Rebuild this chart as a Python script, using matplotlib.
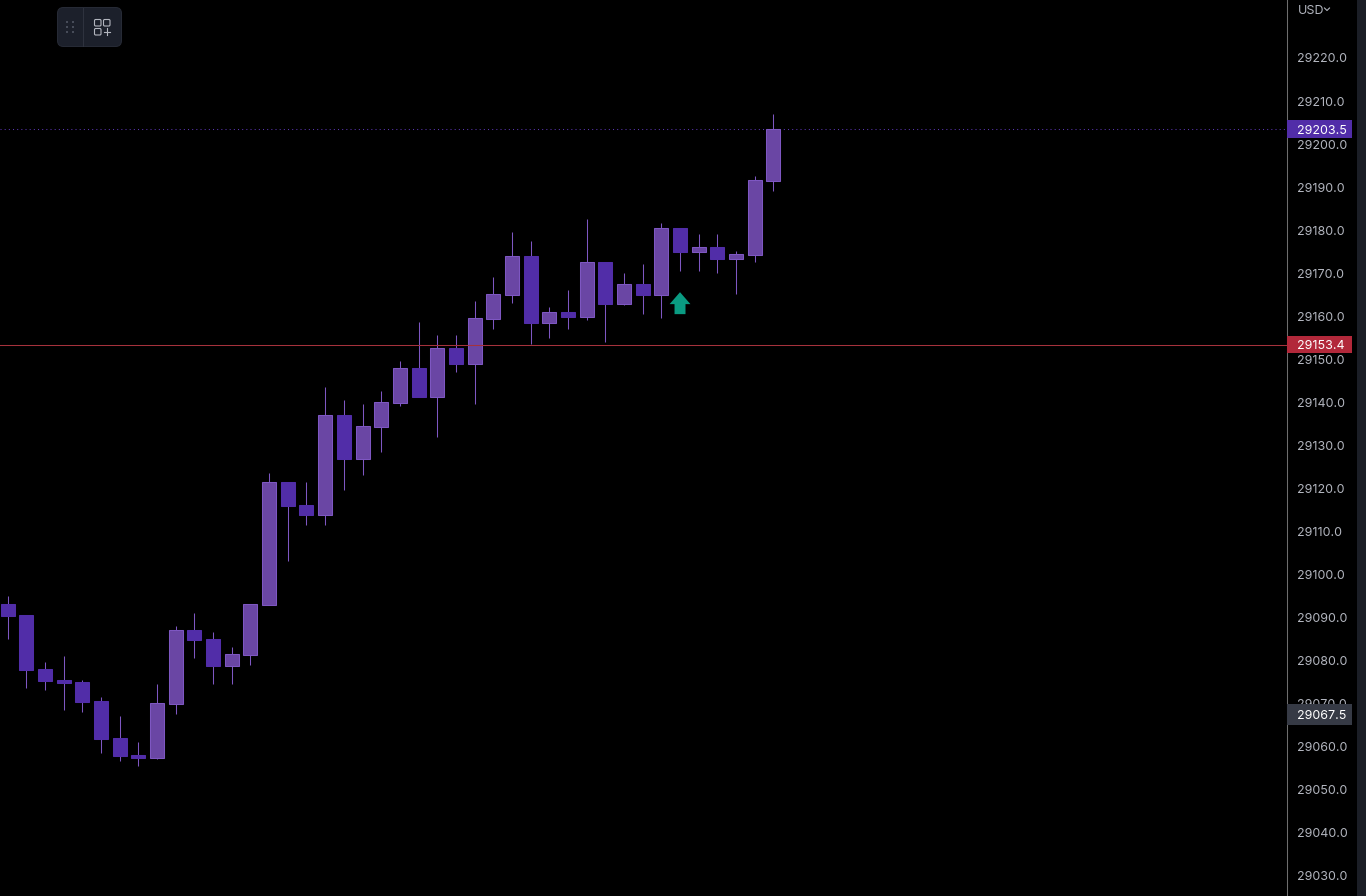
import numpy as np
import matplotlib
matplotlib.use("Agg")
import matplotlib.pyplot as plt
from matplotlib.patches import FancyBboxPatch, Rectangle
from matplotlib.transforms import blended_transform_factory

# candles, oldest first
opens = [29093.2, 29090.6, 29078.1, 29075.5, 29075.0, 29070.6, 29062.0, 29058.1, 29057.4, 29069.9,
         29087.1, 29085.0, 29078.8, 29081.3, 29092.9, 29121.5, 29116.2, 29113.8, 29137.1, 29126.9,
         29134.3, 29139.9, 29148.0, 29141.3, 29152.6, 29148.9, 29159.4, 29165.0, 29174.0, 29158.4,
         29161.0, 29159.8, 29172.6, 29162.9, 29167.5, 29165.0, 29180.5, 29174.9, 29176.1, 29173.3,
         29174.2, 29191.4]
closes = [29090.4, 29077.8, 29075.3, 29074.8, 29070.4, 29061.8, 29057.9, 29057.4, 29070.2, 29087.1,
          29084.8, 29078.8, 29081.6, 29093.2, 29121.5, 29115.9, 29113.8, 29137.1, 29126.9, 29134.5,
          29140.1, 29148.0, 29141.3, 29152.6, 29148.9, 29159.6, 29165.2, 29174.0, 29158.4, 29161.0,
          29159.8, 29172.6, 29162.9, 29167.5, 29165.0, 29180.5, 29174.9, 29176.1, 29173.3, 29174.5,
          29191.7, 29203.5]
highs = [29095.0, 29090.6, 29079.7, 29081.1, 29075.5, 29071.6, 29067.2, 29061.1, 29074.6, 29088.1,
         29091.1, 29086.7, 29083.2, 29093.2, 29123.6, 29121.5, 29121.5, 29143.6, 29140.6, 29139.6,
         29142.6, 29149.6, 29158.7, 29155.7, 29155.7, 29163.6, 29169.1, 29179.6, 29177.5, 29162.2,
         29166.1, 29182.6, 29172.6, 29170.1, 29172.2, 29181.7, 29180.5, 29179.1, 29179.1, 29175.2,
         29192.6, 29207.0]
lows = [29085.0, 29073.7, 29073.2, 29068.5, 29068.1, 29058.6, 29056.7, 29055.5, 29057.2, 29067.6,
        29080.6, 29074.6, 29074.6, 29079.0, 29092.9, 29103.2, 29111.5, 29111.5, 29119.7, 29123.1,
        29128.5, 29139.2, 29141.3, 29132.0, 29147.1, 29139.6, 29157.0, 29163.1, 29153.6, 29155.0,
        29157.0, 29159.1, 29154.0, 29162.6, 29160.5, 29159.6, 29170.5, 29170.5, 29170.1, 29165.2,
        29172.6, 29189.1]

price_ticks = [29030, 29040, 29050, 29060, 29070, 29080, 29090, 29100, 29110, 29120, 29130,
               29140, 29150, 29160, 29170, 29180, 29190, 29200, 29210, 29220]
last_price = 29203.5
red_price = 29153.4
grey_price = 29067.5
arrow_idx = 36
arrow_tip, arrow_base = 29165.6, 29160.5

UP_FACE = '#6a46a4'
UP_EDGE = '#7e57c2'
DOWN_FACE = '#512da8'
WICK = '#7e57c2'
TEXT = '#b2b5be'

plt.rcParams['font.family'] = ['Inter', 'DejaVu Sans']

fig = plt.figure(figsize=(13.66, 8.96), dpi=100, facecolor='black')
ax = fig.add_axes([0, 0, 1287 / 1366, 1], facecolor='black')
ax.set_xlim(-0.41, 68.50)
ax.set_ylim(29025.34, 29233.47)

x = np.arange(len(opens))
opens = np.array(opens)
closes = np.array(closes)
up = closes >= opens

ax.vlines(x, lows, highs, color=WICK, lw=0.75, zorder=2)
ax.bar(x[up], (closes - opens)[up], bottom=opens[up], width=0.75,
       color=UP_FACE, edgecolor=UP_EDGE, lw=0.75, zorder=3)
ax.bar(x[~up], (closes - opens)[~up], bottom=opens[~up], width=0.75,
       color=DOWN_FACE, edgecolor=DOWN_FACE, lw=0.75, zorder=3)

ax.axhline(last_price, color='#5a35b0', lw=0.75, ls=(0, (1, 3)), zorder=1)
ax.axhline(red_price, color='#a5323c', lw=0.75, zorder=4)

ax.annotate('', xy=(arrow_idx, arrow_tip), xytext=(arrow_idx, arrow_base),
            arrowprops=dict(width=7.9, headwidth=15, headlength=8.6, shrink=0,
                            color='#0a9b82', lw=0), zorder=5)

for side in ['top', 'left', 'bottom']:
    ax.spines[side].set_visible(False)
ax.spines['right'].set_color('#6e6e6e')
ax.spines['right'].set_linewidth(0.75)
ax.set_xticks([])
ax.yaxis.tick_right()
ax.set_yticks(price_ticks)
ax.set_yticklabels([f'{p:.1f}' for p in price_ticks], va='center_baseline')
ax.tick_params(axis='y', length=0, pad=7.0, labelsize=9, labelcolor=TEXT)

# price tags on the scale, the grey one is a bit taller
tag_tr = blended_transform_factory(fig.transFigure, ax.transData)
for price, col, tag_h in [(last_price, '#512da8', 4.0), (red_price, '#b2283a', 4.0),
                          (grey_price, '#363a45', 4.8)]:
    fig.add_artist(FancyBboxPatch((1287 / 1366, price - tag_h / 2), 65 / 1366, tag_h,
                                  boxstyle='square,pad=0', fc=col, ec='none', transform=tag_tr,
                                  clip_on=False, zorder=10))
    fig.text(1297.5 / 1366, price, f'{price:.1f}', color='#ffffff', fontsize=9, va='center_baseline',
             ha='left', transform=tag_tr, zorder=11)

# toolbar, scale strip and USD label live on a pixel overlay
over = fig.add_axes([0, 0, 1, 1], facecolor='none', zorder=20)
over.set_xlim(0, 1366)
over.set_ylim(896, 0)
over.axis('off')

over.add_patch(Rectangle((1357, 0), 9, 896, fc='#1b1e26', ec='none'))
over.text(1297.5, 11.5, 'USD', color=TEXT, fontsize=9, va='center', ha='left')
over.plot([1324.5, 1327, 1329.5], [8, 10.5, 8], color=TEXT, lw=0.8)

over.add_patch(FancyBboxPatch((57.5, 7.5), 64, 39, boxstyle='round,pad=0,rounding_size=6',
                              fc='#1c202b', ec='#262a35', lw=0.75))
over.plot([82.5, 82.5], [8, 46], color='#2e323e', lw=0.75)
for dot_x in [67, 73]:
    for dot_y in [22, 27, 32]:
        over.add_patch(Rectangle((dot_x - 1, dot_y - 1), 2, 2, fc='#474c59', ec='none'))
for sq_x, sq_y in [(94.5, 19.5), (103.5, 19.5), (94.5, 28.5)]:
    over.add_patch(FancyBboxPatch((sq_x, sq_y), 6.5, 6.5, boxstyle='round,pad=0,rounding_size=1.2',
                                  fc='none', ec='#b2b5be', lw=0.8))
over.plot([103.5, 110], [31.8, 31.8], color='#b2b5be', lw=0.8)
over.plot([106.8, 106.8], [28.5, 35], color='#b2b5be', lw=0.8)

fig.savefig('out.png', dpi=100, facecolor='black')
